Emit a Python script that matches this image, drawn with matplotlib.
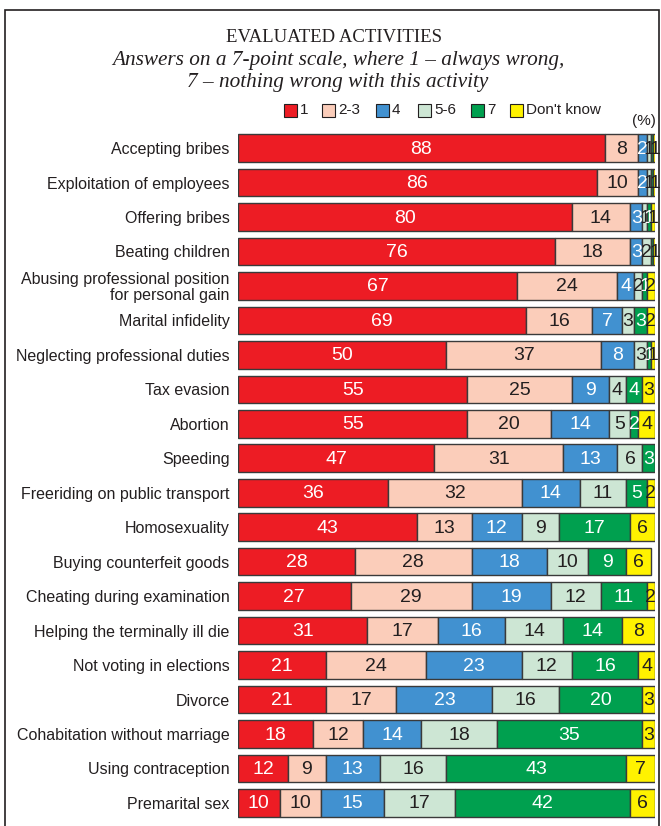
import numpy as np
import matplotlib.pyplot as plt
from matplotlib.patches import Rectangle

plt.rcParams['font.family'] = ['Liberation Sans', 'DejaVu Sans']

activities = [
    "Accepting bribes",
    "Exploitation of employees",
    "Offering bribes",
    "Beating children",
    "Abusing professional position\nfor personal gain",
    "Marital infidelity",
    "Neglecting professional duties",
    "Tax evasion",
    "Abortion",
    "Speeding",
    "Freeriding on public transport",
    "Homosexuality",
    "Buying counterfeit goods",
    "Cheating during examination",
    "Helping the terminally ill die",
    "Not voting in elections",
    "Divorce",
    "Cohabitation without marriage",
    "Using contraception",
    "Premarital sex",
]

# answer shares, %
ans_1 = [88, 86, 80, 76, 67, 69, 50, 55, 55, 47, 36, 43, 28, 27, 31, 21, 21, 18, 12, 10]
ans_2_3 = [8, 10, 14, 18, 24, 16, 37, 25, 20, 31, 32, 13, 28, 29, 17, 24, 17, 12, 9, 10]
ans_4 = [2, 2, 3, 3, 4, 7, 8, 9, 14, 13, 14, 12, 18, 19, 16, 23, 23, 14, 13, 15]
ans_5_6 = [1, 1, 1, 2, 2, 3, 3, 4, 5, 6, 11, 9, 10, 12, 14, 12, 16, 18, 16, 17]
ans_7 = [0.5, 0.5, 1, 0.5, 1, 3, 1, 4, 2, 3, 5, 17, 9, 11, 14, 16, 20, 35, 43, 42]
dont_know = [1, 1, 1, 1, 2, 2, 1, 3, 4, 0, 2, 6, 6, 2, 8, 4, 3, 3, 7, 6]

series = [ans_1, ans_2_3, ans_4, ans_5_6, ans_7, dont_know]
legend_labels = ["1", "2-3", "4", "5-6", "7", "Don't know"]
colors = ["#ED1C24", "#FBCDBA", "#4191D0", "#CDE6D4", "#00A04F", "#FFF200"]
text_colors = ["white", "#231F20", "white", "#231F20", "white", "#231F20"]

fig = plt.figure(figsize=(6.61, 8.26), dpi=100)

# outer frame
fig.patches.append(Rectangle((5 / 661, -0.05), 654 / 661, 1 - 10 / 826 + 0.05,
                             transform=fig.transFigure, fill=False,
                             edgecolor="#231F20", linewidth=1.2))

fig.text(334 / 661, 1 - 37 / 826, "EVALUATED ACTIVITIES", ha="center", va="center",
         family="Liberation Serif", fontsize=13.5, color="#231F20")
fig.text(338 / 661, 1 - 60 / 826, "Answers on a 7-point scale, where 1 \u2013 always wrong,",
         ha="center", va="center", family="Liberation Serif", style="italic",
         fontsize=15.3, color="#231F20")
fig.text(338 / 661, 1 - 83 / 826, "7 \u2013 nothing wrong with this activity",
         ha="center", va="center", family="Liberation Serif", style="italic",
         fontsize=15.3, color="#231F20")

ax = fig.add_axes([238 / 661, 1 - 820.2 / 826, 417 / 661, 689.4 / 826])
y = np.arange(len(activities))
left = np.zeros(len(activities))
for vals, col, tcol in zip(series, colors, text_colors):
    vals = np.array(vals, dtype=float)
    ax.barh(y, vals, left=left, height=0.8, color=col, edgecolor="#3a3a3a", linewidth=1)
    for yi, (v, l0) in enumerate(zip(vals, left)):
        if v >= 1:
            ax.text(l0 + v / 2, yi + 0.03, f"{v:g}", ha="center", va="center",
                    fontsize=14, color=tcol)
    left += vals

ax.set_xlim(0, 100)
ax.set_ylim(len(activities) - 0.5, -0.5)
ax.set_yticks(y)
ax.set_yticklabels(activities, fontsize=11.5, color="#231F20", linespacing=1.05)
ax.tick_params(axis="y", length=0, pad=6)
ax.set_xticks([])
for s in ax.spines.values():
    s.set_visible(False)

# legend row
leg_x = [284, 322, 376, 418, 471, 510]
for lx, lab, col in zip(leg_x, legend_labels, colors):
    fig.patches.append(Rectangle((lx / 661, 1 - 117 / 826), 13 / 661, 13 / 826,
                                 transform=fig.transFigure, facecolor=col,
                                 edgecolor="#231F20", linewidth=0.8))
    fig.text((lx + 16) / 661, 1 - 110 / 826, lab, ha="left", va="center",
             fontsize=11, color="#231F20")
fig.text(656 / 661, 1 - 121 / 826, "(%)", ha="right", va="center",
         fontsize=11, color="#231F20")

fig.savefig("out.png", dpi=100)
